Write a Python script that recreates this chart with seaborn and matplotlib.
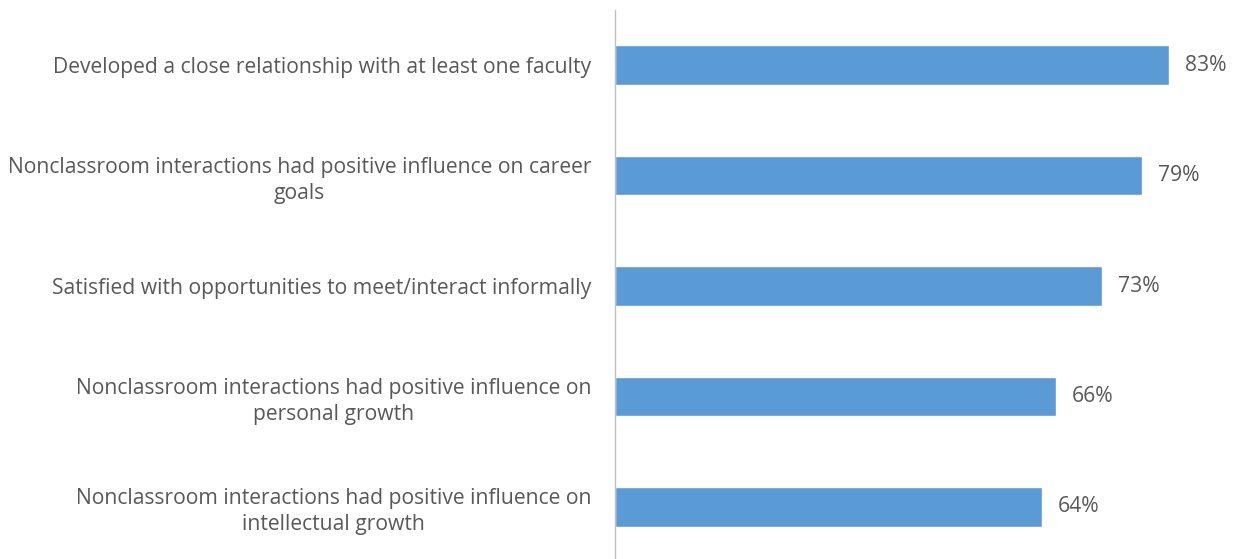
import matplotlib
matplotlib.use("Agg")
import matplotlib.pyplot as plt
import seaborn as sns
import pandas as pd

categories = [
    "Developed a close relationship with at least one faculty",
    "Nonclassroom interactions had positive influence on career\ngoals",
    "Satisfied with opportunities to meet/interact informally",
    "Nonclassroom interactions had positive influence on\npersonal growth",
    "Nonclassroom interactions had positive influence on\nintellectual growth",
]
values = [83, 79, 73, 66, 64]

sns.set_theme(style="white")
plt.rcParams['font.family'] = ['Open Sans', 'DejaVu Sans']

df = pd.DataFrame({"cat": categories, "val": values})

fig = plt.figure(figsize=(12.41, 5.59), dpi=100)
ax = fig.add_axes([615 / 1241, -3 / 559, 1 - 615 / 1241, 552 / 559])
sns.barplot(data=df, x="val", y="cat", color="#5B9BD5", width=0.36, ax=ax, saturation=1)

ax.set_xlim(0, (1241 - 615) / 6.675)
ax.set_ylim(4.5, -0.5)
ax.set_xlabel("")
ax.set_ylabel("")
ax.set_xticks([])
for s in ["top", "right", "bottom"]:
    ax.spines[s].set_visible(False)
ax.spines["left"].set_color("#BFBFBF")
ax.spines["left"].set_linewidth(1.0)
ax.tick_params(axis="y", length=0, pad=17, labelsize=15.2, labelcolor="#595959")
for lab in ax.get_yticklabels():
    lab.set_multialignment("center")
    lab.set_linespacing(1.3)

for i, v in enumerate(values):
    ax.text(v + 2.4, i, f"{v}%", va="center", ha="left", fontsize=15.2, color="#595959")

fig.savefig("out.png", dpi=100)
